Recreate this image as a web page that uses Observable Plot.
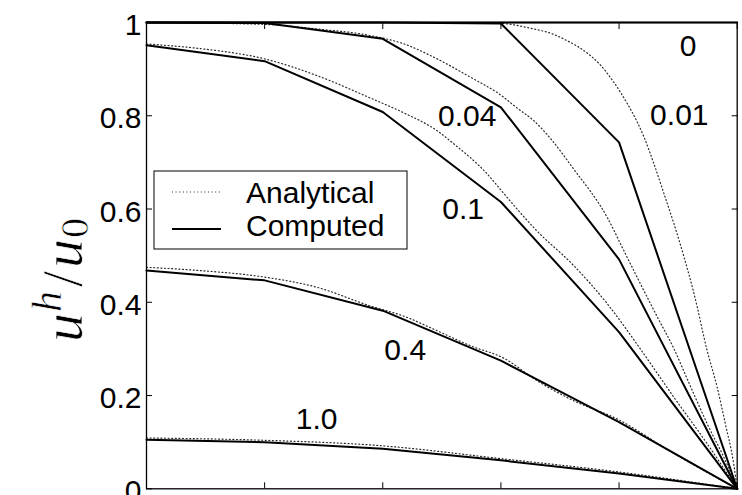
<!DOCTYPE html>
<html>
<head>
<meta charset="utf-8">
<script src="https://cdn.jsdelivr.net/npm/d3@7"></script>
<script src="https://cdn.jsdelivr.net/npm/@observablehq/plot@0.6"></script>
<style>
  html, body { margin: 0; padding: 0; background: white; overflow: hidden; }
</style>
</head>
<body>
<div id="chart"></div>
<script>
// ---- data ----
const xNodes = [0, 0.2, 0.4, 0.6, 0.8, 1.0];
const computed001 = [1, 1, 1, 0.998, 0.743, 0];
const computed004 = [1, 0.999, 0.965, 0.818, 0.492, 0];
const computed01  = [0.951, 0.917, 0.808, 0.615, 0.336, 0];
const computed04  = [0.468, 0.447, 0.382, 0.275, 0.143, 0];
const computed10  = [0.105, 0.100, 0.086, 0.061, 0.033, 0];
const computed0   = [1, 1, 1, 1, 1, 1];

const anX0 = [0, 1];
const anY0 = [1, 1];
const anX001 = [0, 0.58, 0.611, 0.656, 0.684, 0.712, 0.740, 0.769, 0.791, 0.814, 0.831, 0.842, 0.859, 0.876, 0.893, 0.910, 0.927, 0.949, 0.966, 0.980, 0.994, 1];
const anY001 = [1, 1, 0.997, 0.986, 0.977, 0.961, 0.940, 0.908, 0.872, 0.826, 0.786, 0.755, 0.697, 0.633, 0.568, 0.497, 0.418, 0.297, 0.218, 0.139, 0.054, 0];
const anX004 = [0, 0.2, 0.289, 0.379, 0.436, 0.492, 0.548, 0.599, 0.628, 0.656, 0.684, 0.723, 0.780, 0.808, 0.836, 0.865, 0.893, 0.919, 0.949, 0.983, 1];
const anY004 = [1, 0.996, 0.986, 0.972, 0.954, 0.922, 0.883, 0.845, 0.816, 0.789, 0.751, 0.686, 0.582, 0.511, 0.440, 0.368, 0.300, 0.225, 0.140, 0.052, 0];
const anX01 = [0, 0.091, 0.2, 0.289, 0.379, 0.436, 0.492, 0.520, 0.577, 0.605, 0.661, 0.723, 0.780, 0.836, 0.893, 0.949, 1];
const anY01 = [0.954, 0.944, 0.922, 0.886, 0.838, 0.806, 0.768, 0.740, 0.675, 0.633, 0.553, 0.479, 0.397, 0.300, 0.196, 0.097, 0];
const anX04 = [0, 0.091, 0.2, 0.289, 0.379, 0.436, 0.492, 0.548, 0.605, 0.661, 0.718, 0.801, 0.887, 1];
const anY04 = [0.475, 0.468, 0.454, 0.432, 0.392, 0.370, 0.339, 0.307, 0.280, 0.232, 0.192, 0.147, 0.080, 0];
const anX10 = [0, 0.2, 0.391, 0.605, 0.8, 1];
const anY10 = [0.109, 0.104, 0.093, 0.064, 0.036, 0];

const labelText = ["0", "0.01", "0.04", "0.1", "0.4", "1.0"];
const labelX = [0.917, 0.902, 0.543, 0.536, 0.438, 0.288];
const labelY = [0.949, 0.801, 0.799, 0.599, 0.297, 0.149];

const xTicks = [0, 0.2, 0.4, 0.6, 0.8, 1];
const yTicks = [0, 0.2, 0.4, 0.6, 0.8, 1];
const yTickLabels = ["0", "0.2", "0.4", "0.6", "0.8", "1"];

const legendNames = ["Analytical", "Computed"];

// ---- tables ----
const computedSeries = [
  ["0", computed0], ["0.01", computed001], ["0.04", computed004],
  ["0.1", computed01], ["0.4", computed04], ["1.0", computed10]
];
const computedRows = computedSeries.flatMap(([s, ys]) => ys.map((y, i) => ({series: s, x: xNodes[i], y})));
const analyticSeries = [
  ["0", anX0, anY0], ["0.01", anX001, anY001], ["0.04", anX004, anY004],
  ["0.1", anX01, anY01], ["0.4", anX04, anY04], ["1.0", anX10, anY10]
];
const analyticRows = analyticSeries.flatMap(([s, xs, ys]) => xs.map((x, i) => ({series: s, x, y: ys[i]})));
const labels = labelText.map((t, i) => ({t, x: labelX[i], y: labelY[i]}));

const font = "'Liberation Sans', Arial, Helvetica, sans-serif";
const dotStroke = "#2a2a2a";
const dotDash = "1,2.6";

const plot = Plot.plot({
  width: 742,
  height: 495,
  marginLeft: 146,
  marginRight: 5.3,
  marginTop: 22,
  marginBottom: 6.7,
  x: {domain: [0, 1]},
  y: {domain: [0, 1]},
  style: {fontFamily: font, fontSize: "30px", background: "white", color: "black"},
  marks: [
    Plot.line(analyticRows, {x: "x", y: "y", z: "series", stroke: dotStroke, strokeWidth: 1.2, strokeDasharray: dotDash, curve: "monotone-x"}),
    Plot.line(computedRows, {x: "x", y: "y", z: "series", stroke: "black", strokeWidth: 2}),
    Plot.frame({stroke: "black", strokeWidth: 1.3}),
    Plot.axisX({ticks: xTicks, anchor: "bottom", tickSize: -6, tickFormat: () => "", label: null}),
    Plot.axisX({ticks: xTicks, anchor: "top", tickSize: -6, tickFormat: () => "", label: null}),
    Plot.axisY({ticks: yTicks, anchor: "right", tickSize: -6, tickFormat: () => "", label: null}),
    Plot.axisY({ticks: yTicks, anchor: "left", tickSize: -6, tickFormat: () => "", label: null}),
    Plot.axisY({ticks: yTicks, anchor: "left", tickSize: 0, tickPadding: 5, dy: 3,
      tickFormat: (d) => yTickLabels[yTicks.indexOf(d)], label: null, fontSize: 30}),
    Plot.text(labels, {x: "x", y: "y", text: "t", fontSize: 30, textAnchor: "middle", lineAnchor: "middle", fill: "black"})
  ]
});

document.getElementById("chart").appendChild(plot);

// ---- legend & y label ----
const svg = d3.select(plot);
const g = svg.append("g");
g.append("rect").attr("x", 154).attr("y", 171).attr("width", 253).attr("height", 78)
  .attr("fill", "white").attr("stroke", "black").attr("stroke-width", 1);
g.append("line").attr("x1", 172).attr("x2", 221).attr("y1", 192).attr("y2", 192)
  .attr("stroke", dotStroke).attr("stroke-width", 1.2).attr("stroke-dasharray", dotDash);
g.append("line").attr("x1", 172).attr("x2", 221).attr("y1", 229).attr("y2", 229)
  .attr("stroke", "black").attr("stroke-width", 2);
g.append("text").attr("x", 246).attr("y", 203).attr("text-anchor", "start")
  .attr("font-family", font).attr("font-size", 30).text(legendNames[0]);
g.append("text").attr("x", 246).attr("y", 236).attr("text-anchor", "start")
  .attr("font-family", font).attr("font-size", 30).text(legendNames[1]);

const yl = svg.append("text")
  .attr("transform", "translate(82,280) rotate(-90)")
  .attr("text-anchor", "middle")
  .attr("font-family", "'Liberation Serif', 'Times New Roman', serif")
  .attr("font-size", 58)
  .attr("fill", "black")
  .attr("stroke", "white")
  .attr("stroke-width", 0.7)
  .attr("paint-order", "fill");
yl.append("tspan").attr("font-style", "italic").text("u");
yl.append("tspan").attr("font-style", "italic").attr("font-size", 42).attr("dy", -21).attr("dx", 1).text("h");
yl.append("tspan").attr("dy", 21).attr("dx", 4).text("/");
yl.append("tspan").attr("font-style", "italic").attr("dx", 3).text("u");
yl.append("tspan").attr("font-size", 40).attr("dy", 6).attr("dx", 1).text("0");
</script>
</body>
</html>
